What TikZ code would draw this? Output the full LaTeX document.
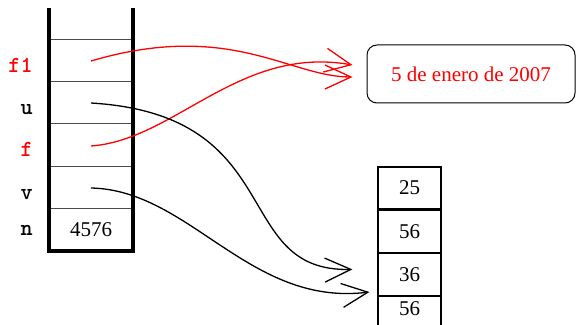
\documentclass[tikz,border=0pt]{standalone}
\usepackage{fontspec}
\setmainfont{Liberation Serif}
\usetikzlibrary{positioning,arrows.meta}

\begin{document}
\begin{tikzpicture}[x=0.5pt, y=-0.5pt,
    slot/.style={minimum width=41pt, minimum height=21pt, inner sep=0pt,
                 font=\fontsize{10.5}{12}\selectfont},
    cell/.style={draw, line width=0.6pt, minimum width=31.5pt, minimum height=21pt,
                 inner sep=0pt, font=\fontsize{10.5}{12}\selectfont},
    var/.style={anchor=base east, inner sep=0pt, font=\ttfamily\bfseries\fontsize{11.5}{13}\selectfont},
    wall/.style={line width=2pt, miter limit=10},
    sep/.style={line width=0.5pt, black!70},
    ptr/.style={line width=0.65pt, -{Straight Barb[length=13pt, width=12pt]}}]
  \useasboundingbox (0,0) rectangle (576,325);

  % the stack
  \draw[wall] (49,8) |- (133,251) -- (133,8);
  \foreach \y in {40,82,124,167,209}
    \draw[sep] (51,\y) -- (131,\y);
  \node[slot] (f1) at (91,61)  {};
  \node[slot] (u)  at (91,103) {};
  \node[slot] (f)  at (91,146) {};
  \node[slot] (v)  at (91,188) {};
  \node[slot] (n)  at (91,230) {4576};

  \node[var, red] (lf1) at (33,73)  {f1};
  \node[var]      (lu)  at (33,115) {u};
  \node[var, red] (lf)  at (33,157) {f};
  \node[var]      (lv)  at (33,199) {v};
  \node[var]      (ln)  at (33,235) {n};

  % the date object
  \node[draw, line width=0.5pt, rounded corners=5pt, minimum width=104pt,
        minimum height=29pt, text=red, font=\fontsize{10.5}{12}\selectfont]
    (fecha) at (471,74) {5 de enero de 2007};

  % the array
  \node[cell] (a0) at (409.5,188) {25};
  \node[cell, below=0pt of a0] (a1) {56};
  \node[cell, below=0pt of a1] (a2) {36};
  \node[cell, below=0pt of a2, text depth=9pt] (a3) {56};

  \coordinate (ef1) at ([shift={(-14,3)}]fecha.west);
  \coordinate (ef)  at ([shift={(-14,-9)}]fecha.west);
  \coordinate (eu)  at ([shift={(-25,-5)}]a2.west);
  \coordinate (ev)  at ([shift={(-8,-4)}]a2.south west);

  \draw[ptr, red] (f1.center) .. controls +(139,-41) and +(-63,0) .. (ef1);
  \draw[ptr, red] (f.center) .. controls +(84,-6) and +(-113,-20) .. (ef);
  \draw[ptr] (u.center) .. controls +(199,12) and +(-123,3) .. (eu);
  \draw[ptr] (v.center) .. controls +(99,2) and +(-120,15) .. (ev);
\end{tikzpicture}
\end{document}
